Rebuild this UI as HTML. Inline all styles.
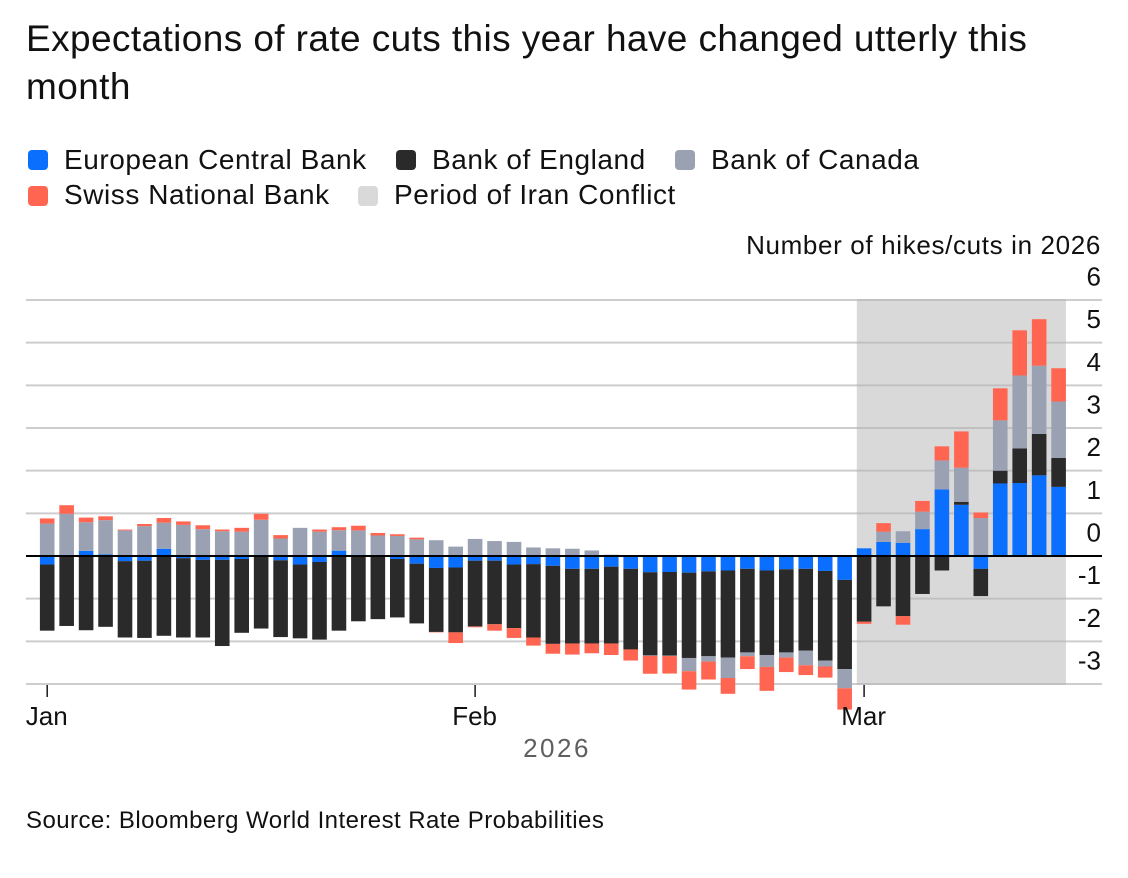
<!DOCTYPE html>
<html lang="en">
<head>
<meta charset="utf-8">
<title>Expectations of rate cuts</title>
<style>
html,body{margin:0;padding:0;background:#fff;width:1128px;height:878px;overflow:hidden;font-family:"Liberation Sans",Arial,sans-serif;color:#111}
#stage{position:relative;width:1128px;height:878px}
.abs{position:absolute;white-space:nowrap}
#title{left:26px;top:15px;font-size:37px;line-height:48px;letter-spacing:.4px;color:#111}
.leg{font-size:28px;line-height:36px;letter-spacing:.55px;color:#111}
.sw{position:absolute;width:20px;height:20px;border-radius:4px}
#source{left:26px;top:806px;font-size:24px;line-height:30px;letter-spacing:.44px;color:#111}
svg{position:absolute;left:0;top:0}
svg text{font-family:"Liberation Sans",Arial,sans-serif}
</style>
</head>
<body>
<div id="stage">
  <div id="title" class="abs">Expectations of rate cuts this year have changed utterly this<br>month</div>

  <div class="sw" style="left:28px;top:150px;background:#0a6fff"></div>
  <div class="abs leg" style="left:64px;top:142px">European Central Bank</div>
  <div class="sw" style="left:396px;top:150px;background:#2a2a2a"></div>
  <div class="abs leg" style="left:432px;top:142px">Bank of England</div>
  <div class="sw" style="left:675px;top:150px;background:#99a1b3"></div>
  <div class="abs leg" style="left:711px;top:142px">Bank of Canada</div>
  <div class="sw" style="left:28px;top:186px;background:#ff6550"></div>
  <div class="abs leg" style="left:64px;top:177px">Swiss National Bank</div>
  <div class="sw" style="left:358px;top:186px;background:#d9d9d9"></div>
  <div class="abs leg" style="left:394px;top:177px">Period of Iran Conflict</div>

  <svg id="chart" width="1128" height="878" viewBox="0 0 1128 878"></svg>

  <div id="source" class="abs">Source: Bloomberg World Interest Rate Probabilities</div>
</div>

<script>
const categories = [
  "2026-01-01","2026-01-02",
  "2026-01-05","2026-01-06","2026-01-07","2026-01-08","2026-01-09",
  "2026-01-12","2026-01-13","2026-01-14","2026-01-15","2026-01-16",
  "2026-01-19","2026-01-20","2026-01-21","2026-01-22","2026-01-23",
  "2026-01-26","2026-01-27","2026-01-28","2026-01-29","2026-01-30",
  "2026-02-02","2026-02-03","2026-02-04","2026-02-05","2026-02-06",
  "2026-02-09","2026-02-10","2026-02-11","2026-02-12","2026-02-13",
  "2026-02-16","2026-02-17","2026-02-18","2026-02-19","2026-02-20",
  "2026-02-23","2026-02-24","2026-02-25","2026-02-26","2026-02-27",
  "2026-03-02","2026-03-03","2026-03-04","2026-03-05","2026-03-06",
  "2026-03-09","2026-03-10","2026-03-11","2026-03-12","2026-03-13",
  "2026-03-16"
];
const ecb = [
  -0.20,0.03,0.12,0.04,-0.12,-0.11,0.17,-0.05,-0.09,-0.09,-0.07,0.03,-0.10,-0.20,-0.14,
  0.125,0.03,-0.01,-0.07,-0.18,-0.28,-0.27,-0.11,-0.11,-0.20,-0.19,-0.23,-0.30,-0.30,
  -0.25,-0.30,-0.38,-0.375,-0.39,-0.36,-0.34,-0.30,-0.34,-0.31,-0.30,-0.35,-0.56,
  0.18,0.33,0.31,0.63,1.56,1.20,-0.30,1.70,1.71,1.89,1.62
];
const boe = [
  -1.55,-1.64,-1.74,-1.66,-1.79,-1.81,-1.87,-1.86,-1.82,-2.02,-1.73,-1.70,-1.80,-1.73,-1.82,
  -1.75,-1.53,-1.47,-1.37,-1.40,-1.50,-1.52,-1.54,-1.49,-1.49,-1.72,-1.83,-1.75,-1.75,
  -1.80,-1.89,-1.95,-1.96,-2.00,-1.99,-2.04,-1.96,-1.98,-1.95,-1.92,-2.10,-2.09,
  -1.54,-1.18,-1.41,-0.89,-0.34,0.07,-0.64,0.30,0.81,0.97,0.68
];
const boc = [
  0.76,0.96,0.67,0.80,0.60,0.70,0.61,0.73,0.63,0.58,0.57,0.82,0.41,0.66,0.57,
  0.48,0.57,0.48,0.47,0.39,0.37,0.22,0.40,0.35,0.33,0.20,0.18,0.17,0.13,
  0.03,0,-0.01,-0.01,-0.31,-0.125,-0.48,-0.09,-0.28,-0.12,-0.34,-0.14,-0.45,
  0,0.24,0.27,0.41,0.68,0.80,0.89,1.18,1.71,1.60,1.32
];
const snb = [
  0.12,0.20,0.11,0.09,0.02,0.05,0.11,0.08,0.09,0.04,0.09,0.14,0.08,0,0.05,
  0.07,0.11,0.06,0.04,0.04,-0.01,-0.25,-0.02,-0.15,-0.23,-0.19,-0.23,-0.26,-0.23,
  -0.27,-0.26,-0.42,-0.41,-0.43,-0.42,-0.37,-0.30,-0.56,-0.34,-0.23,-0.26,-0.50,
  -0.05,0.20,-0.20,0.25,0.33,0.85,0.13,0.75,1.06,1.09,0.78
];
const seriesNames = ["ecb","boe","boc","snb"];
const seriesColors = ["#0a6fff","#2a2a2a","#99a1b3","#ff6550"];
const yTicks = [6,5,4,3,2,1,0,-1,-2,-3];
const xTickDates = ["2026-01-01","2026-02-02","2026-03-02"];
const xTickLabels = ["Jan","Feb","Mar"];
const conflictStart = "2026-03-02";
const conflictEnd = "2026-03-16";

const NS = "http://www.w3.org/2000/svg";
const svg = document.getElementById("chart");
const plotTop = 300, plotBottom = 684, plotLeft = 26, plotRight = 1102;
const yMax = 6, yMin = -3;
const firstCenter = 47.2, step = 19.45, barWidth = 14.6;

function yScale(v){ return plotBottom - (v - yMin) / (yMax - yMin) * (plotBottom - plotTop); }
function xScale(date){ return firstCenter + categories.indexOf(date) * step; }
function make(tag, attrs, parent){
  const el = document.createElementNS(NS, tag);
  for (const k in attrs) el.setAttribute(k, attrs[k]);
  (parent || svg).appendChild(el);
  return el;
}

// gridlines and y tick labels
yTicks.forEach(function(t){
  if (t !== 0) {
    const g = make("line", {x1: plotLeft, x2: plotRight, y1: yScale(t), y2: yScale(t), stroke: "#cdcdcd", "stroke-width": 2});
    
    
  }
  const lab = make("text", {x: 1101, y: yScale(t) - 14.5, "text-anchor": "end", "font-size": 26, fill: "#111"});
  lab.textContent = String(t);
  
  
});

// conflict shading (translucent, so gridlines show through)
const shadeX = xScale(conflictStart) - barWidth / 2;
const shade = make("rect", {x: shadeX, y: plotTop - 1, width: xScale(conflictEnd) + barWidth / 2 - shadeX, height: plotBottom - plotTop + 2, fill: "#b3b3b3", "fill-opacity": 0.5});



// stacked bars
categories.forEach(function(date, i){
  let pos = 0, neg = 0;
  [ecb, boe, boc, snb].forEach(function(series, s){
    const v = series[i];
    if (!v) return;
    const start = v > 0 ? pos : neg;
    const end = start + v;
    if (v > 0) pos = end; else neg = end;
    const y0 = yScale(Math.max(start, end));
    const y1 = yScale(Math.min(start, end));
    const bar = make("rect", {x: xScale(date) - barWidth / 2, y: y0, width: barWidth, height: y1 - y0, fill: seriesColors[s]});
    
    
  });
});

// zero line
const zero = make("line", {x1: plotLeft, x2: plotRight, y1: yScale(0), y2: yScale(0), stroke: "#000", "stroke-width": 2});



// x ticks
xTickDates.forEach(function(d, i){
  const x = xScale(d);
  const tick = make("line", {x1: x, x2: x, y1: 685, y2: 697, stroke: "#1a1a1a", "stroke-width": 1.5});
  
  
  const lab = make("text", {x: x - 0.5, y: 725, "text-anchor": "middle", "font-size": 26, fill: "#111"});
  lab.textContent = xTickLabels[i];
  
  
});

// axis titles
const yTitle = make("text", {x: 1101, y: 254, "text-anchor": "end", "font-size": 26, "letter-spacing": 0.65, fill: "#111"});
yTitle.textContent = "Number of hikes/cuts in 2026";



const xTitle = make("text", {x: 557, y: 757, "text-anchor": "middle", "font-size": 26, "letter-spacing": 2.5, fill: "#5f5f5f"});
xTitle.textContent = "2026";


</script>
</body>
</html>
